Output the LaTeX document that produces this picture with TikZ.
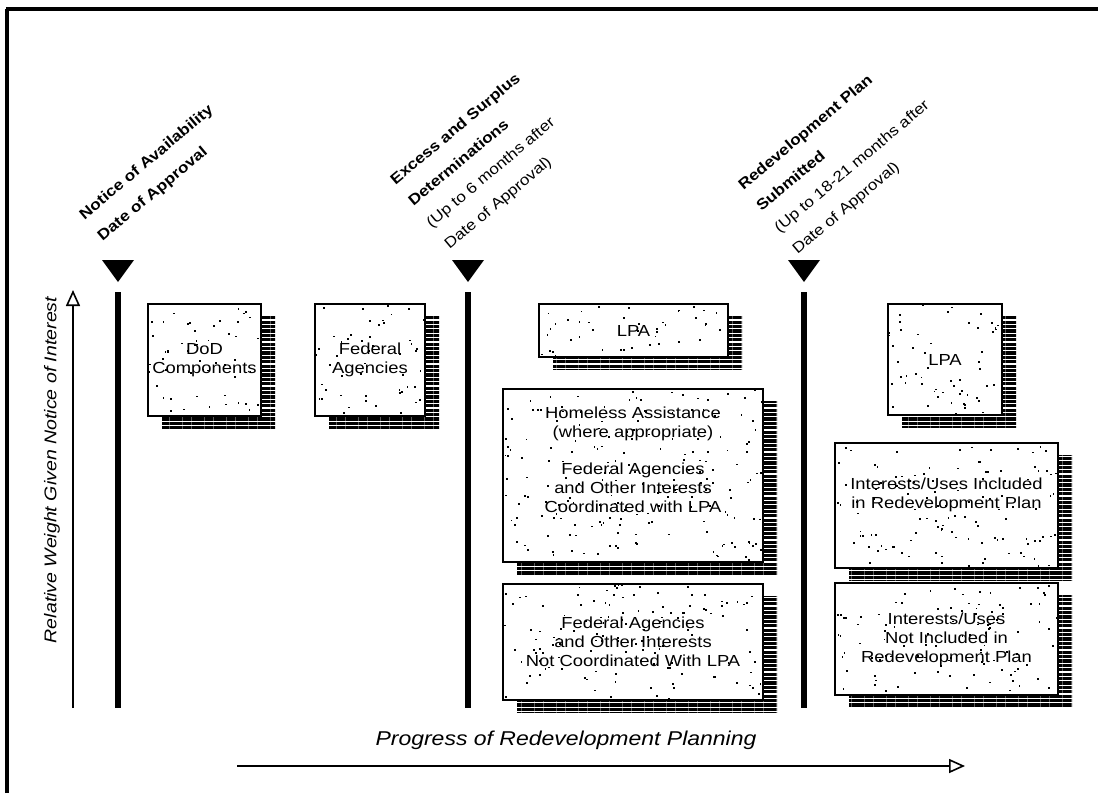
\documentclass[tikz,border=0pt]{standalone}
\usepackage{fontspec}
\usetikzlibrary{arrows.meta,shadows,patterns.meta,calc}

\newfontfamily\boxfont[FakeStretch=1.15]{Liberation Sans}

\tikzset{
  card/.style 2 args={draw,line width=1pt,fill=white,inner sep=0pt,
    minimum width=#1*0.5pt,minimum height=#2*0.5pt,align=center,
    font=\boxfont\fontsize{8}{9.5}\selectfont,
    drop shadow={shadow xshift=7pt,shadow yshift=-6pt,opacity=1,
      pattern={Lines[distance=2.2pt,line width=1.6pt]},pattern color=black},
    path picture={
      \pgfmathtruncatemacro\ndots{(#1/10)*(#2/23)}
      \foreach \k in {1,...,\ndots}
        \fill[black] ($(path picture bounding box.north west)+({rnd*#1*0.5pt},{-rnd*#2*0.5pt})$)
          rectangle ++(0.9pt,-0.9pt);
    }},
  card text/.style={font=\boxfont\fontsize{8}{9.5}\selectfont,align=center,inner sep=0pt},
  stamp/.style={rotate=40,anchor=north west,align=left,inner sep=0pt,
    font=\boxfont\fontsize{7.5}{14}\selectfont},
  milestone/.style={line width=2.6pt},
  axis/.style={line width=0.8pt,-{Triangle[open,length=8pt,width=7pt]}},
  axis title/.style={font=\boxfont\itshape\fontsize{#1}{12}\selectfont}
}

\begin{document}
\begin{tikzpicture}[x=0.5pt,y=-0.5pt]
  \useasboundingbox (0,0) rectangle (1098,793);
  \pgfmathsetseed{4}

  % frame
  \draw[line width=1.6pt] (7,793) -- (7,9);
  \draw[line width=2pt] (6,9) -- (1098,9);

  % milestones
  \foreach \x/\m in {118/notice,468/excess,804/plan} {
    \fill (\x-16,260) -- (\x+16,260) -- (\x,282) -- cycle;
    \coordinate (\m top) at (\x,292);
    \coordinate (\m foot) at (\x,708);
    \draw[milestone] (\m top) -- (\m foot);
  }

  \node[stamp] (notice label) at (77,212)
    {\textbf{Notice of Availability}\\\textbf{Date of Approval}};
  \node[stamp] (excess label) at (388,177)
    {\textbf{Excess and Surplus}\\\textbf{Determinations}\\(Up to 6 months after\\Date of Approval)};
  \node[stamp] (plan label) at (736,182)
    {\textbf{Redevelopment Plan}\\\textbf{Submitted}\\(Up to 18-21 months after\\Date of Approval)};

  % interests
  \node[card={113}{112}] (dod) at (204.5,360) {DoD\\Components};
  \node[card={110}{112}] (federal) at (370,360) {Federal\\Agencies};
  \node[card={189}{53}] (lpa early) at (633.5,330.5) {LPA};
  \node[card={260}{173}] (homeless) at (633,475.5) {};
  \node[card text] (homeless text) at (633,460)
    {Homeless Assistance\\(where appropriate)\\[9pt]Federal Agencies\\and Other Interests\\Coordinated with LPA};
  \node[card={260}{116}] (not coordinated) at (633,642)
    {Federal Agencies\\and Other Interests\\Not Coordinated With LPA};
  \node[card={114}{111}] (lpa late) at (945,359.5) {LPA};
  \node[card={223}{125}] (included) at (946.5,505.5) {};
  \node[card text] (included text) at (946.5,495)
    {Interests/Uses Included\\in Redevelopment Plan};
  \node[card={223}{112}] (not included) at (946.5,639)
    {Interests/Uses\\Not Included in\\Redevelopment Plan};

  % axes
  \coordinate (y foot) at (73,708);
  \coordinate (y tip) at (73,290);
  \draw[axis] (y foot) -- (y tip);
  \node[axis title=8.5,rotate=90] (y title) at (52,470)
    {Relative Weight Given Notice of Interest};

  \coordinate (x foot) at (237,766);
  \coordinate (x tip) at (965,766);
  \draw[axis] (x foot) -- (x tip);
  \node[axis title=10] (x title) at (566,740)
    {Progress of Redevelopment Planning};
\end{tikzpicture}
\end{document}
